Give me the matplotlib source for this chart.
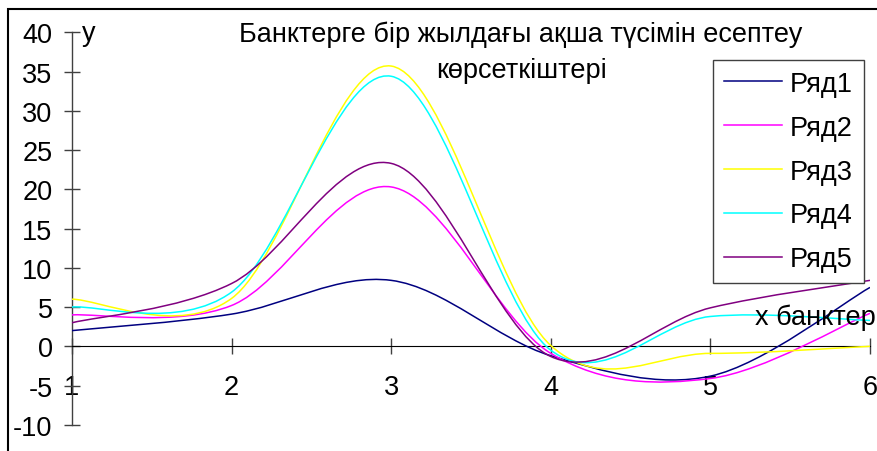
import numpy as np
import matplotlib
matplotlib.use('Agg')
import matplotlib.pyplot as plt
from matplotlib.path import Path
from matplotlib.patches import PathPatch, Rectangle
from matplotlib.lines import Line2D

plt.rcParams['font.family'] = ['Liberation Sans', 'DejaVu Sans']
plt.rcParams['axes.unicode_minus'] = False

# bank numbers on the x axis
banks = [1, 2, 3, 4, 5, 6]

# yearly cash receipts per series
row1 = [2.0, 4.1, 8.4, -1.2, -3.8, 7.5]
row2 = [4.0, 5.2, 20.3, -0.9, -4.1, 4.2]
row3 = [6.0, 6.1, 35.7, 0.1, -0.9, 0.0]
row4 = [5.0, 6.9, 34.4, -0.5, 3.8, 3.3]
row5 = [3.0, 8.0, 23.3, -1.3, 4.9, 8.4]

series = [row1, row2, row3, row4, row5]
series_names = ['Ряд1', 'Ряд2', 'Ряд3', 'Ряд4', 'Ряд5']
series_colors = ['#000080', '#FF00FF', '#FFFF00', '#00FFFF', '#800080']

y_ticks = list(range(-10, 41, 5))

W, H = 877, 452
FS = 19.5


# smoothed curve through the points (cubic Bezier, Catmull-Rom style)
def smooth_path(xs, ys, tension=1.0 / 6.0):
    pts = np.column_stack([xs, ys]).astype(float)
    n = len(pts)
    verts = [pts[0]]
    codes = [Path.MOVETO]
    for i in range(n - 1):
        p_prev = pts[i - 1] if i > 0 else pts[i]
        p_next = pts[i + 2] if i + 2 < n else pts[i + 1]
        c1 = pts[i] + (pts[i + 1] - p_prev) * tension
        c2 = pts[i + 1] - (p_next - pts[i]) * tension
        verts += [c1, c2, pts[i + 1]]
        codes += [Path.CURVE4] * 3
    return Path(verts, codes)


fig = plt.figure(figsize=(W / 100, H / 100), dpi=100)
ax = fig.add_axes([72 / W, 1 - 425.8 / H, (870 - 72) / W, (425.8 - 33.3) / H])
ax.set_xlim(1, 6)
ax.set_ylim(-10, 40)

handles = []
for values, name, color in zip(series, series_names, series_colors):
    patch = PathPatch(smooth_path(banks, values), fill=False,
                      edgecolor=color, lw=1.1, zorder=3)
    ax.add_patch(patch)
    handles.append(Line2D([], [], color=color, lw=1.1, label=name))

# axes cross at y = 0, y axis sits on the first bank
ax.spines['top'].set_visible(False)
ax.spines['right'].set_visible(False)
ax.spines['bottom'].set_position(('data', 0))
ax.spines['bottom'].set_color('black')
ax.spines['left'].set_color('#404040')
ax.spines['left'].set_linewidth(1.0)

ax.set_xticks(banks)
ax.set_yticks(y_ticks)
ax.tick_params(axis='both', direction='inout', length=12, width=1,
               color='#404040', labelsize=FS)
ax.tick_params(axis='x', pad=14)
ax.tick_params(axis='y', pad=8)

ax.annotate('y', xy=(1, 40), xytext=(7, -5.5), textcoords='offset points',
            ha='left', va='baseline', fontsize=FS)
ax.annotate('x банктер', xy=(6, 0), xytext=(4, 16), textcoords='offset points',
            ha='right', va='baseline', fontsize=FS)

fig.text(521 / W, 1 - 42 / H, 'Банктерге бір жылдағы ақша түсімін есептеу',
         ha='center', va='baseline', fontsize=FS)
fig.text(522 / W, 1 - 78 / H, 'көрсеткіштері',
         ha='center', va='baseline', fontsize=FS)

leg = ax.legend(handles=handles, loc='upper left',
                bbox_to_anchor=(713 / W, 1 - 61 / H),
                bbox_transform=fig.transFigure, fontsize=FS,
                frameon=True, fancybox=False, framealpha=1,
                edgecolor='#404040', borderaxespad=0, borderpad=0.4,
                handlelength=2.14, handletextpad=0.3, labelspacing=0.66)
leg.get_frame().set_linewidth(1.0)

# outer chart frame
fig.add_artist(Rectangle((8 / W, -0.1), 1.2, 1 - 10 / H + 0.1,
                         transform=fig.transFigure, fill=False,
                         edgecolor='black', lw=1.5))

fig.savefig('out.png', dpi=100)
